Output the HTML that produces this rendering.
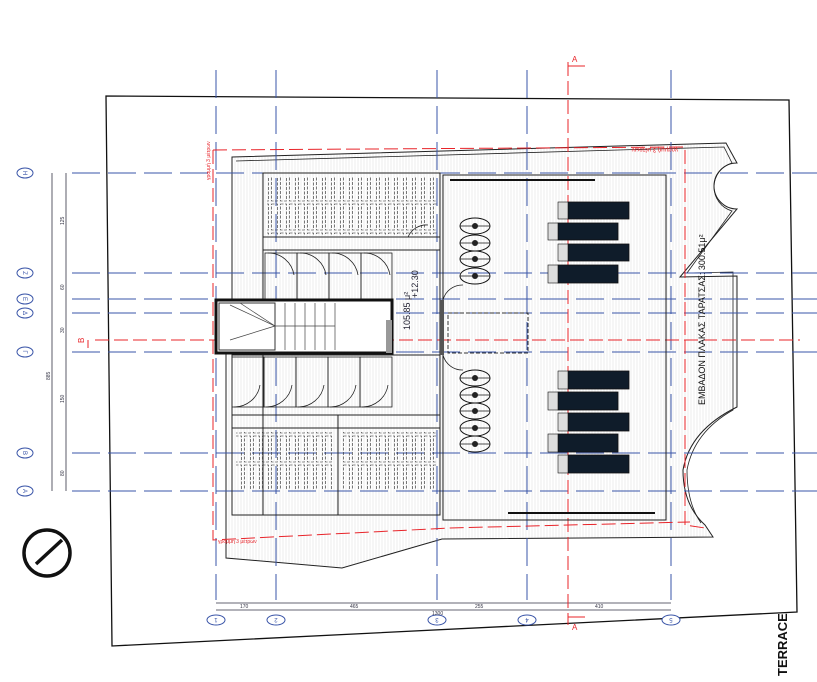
<!DOCTYPE html>
<html><head><meta charset="utf-8"><style>
html,body{margin:0;padding:0;background:#fff}
svg{display:block}
text{font-family:"Liberation Sans",sans-serif}
</style></head><body>
<svg width="817" height="682" viewBox="0 0 817 682" xmlns="http://www.w3.org/2000/svg">
<defs>
<pattern id="hatch" width="3" height="3" patternUnits="userSpaceOnUse"><line x1="1" y1="0" x2="1" y2="3" stroke="#e2e2e2" stroke-width="0.6"/></pattern>
<pattern id="racks" width="9" height="29" patternUnits="userSpaceOnUse"><rect x="1.5" y="1" width="6" height="26" fill="none" stroke="#222" stroke-width="0.6" stroke-dasharray="3,1.5"/></pattern>
</defs>
<rect width="817" height="682" fill="#fff"/>
<polygon points="106,96 789,100 797,612 112,646" fill="none" stroke="#111" stroke-width="1.3"/>

<path d="M232,157 L726,143 L737,163 A22,22 0 0 0 737,209 L680,277 L737,276 L737,407 Q690,430 683,470 Q683,505 705,525 L713,537 L442,539 L342,568 L226,558 L226,300 L232,300 Z" fill="url(#hatch)" stroke="#222" stroke-width="1"/>
<path d="M236,161 L724,147 L732,163 A25,25 0 0 0 732,211 L687,273 L733,272 L733,410 Q694,432 687,470 Q687,503 701,523" fill="none" stroke="#222" stroke-width="0.8"/>

<g stroke="#3a55a8" stroke-width="1" stroke-dasharray="28,8">
<line x1="216" y1="70" x2="216" y2="600"/><line x1="276" y1="70" x2="276" y2="600"/>
<line x1="437" y1="70" x2="437" y2="600"/><line x1="527" y1="70" x2="527" y2="600"/>
<line x1="671" y1="70" x2="671" y2="600"/>
<line x1="72" y1="173" x2="817" y2="173"/><line x1="72" y1="273" x2="817" y2="273"/>
<line x1="72" y1="299" x2="817" y2="299"/><line x1="72" y1="313" x2="817" y2="313"/>
<line x1="72" y1="352" x2="817" y2="352"/><line x1="72" y1="453" x2="817" y2="453"/>
<line x1="72" y1="491" x2="817" y2="491"/>
</g>
<g stroke="#334" stroke-width="0.8"><line x1="52" y1="173" x2="52" y2="491"/><line x1="66" y1="173" x2="66" y2="491"/></g>
<g fill="#fff" stroke="#3a55a8" stroke-width="1">
<ellipse cx="25" cy="173" rx="8" ry="5"/><ellipse cx="25" cy="273" rx="8" ry="5"/><ellipse cx="25" cy="299" rx="8" ry="5"/><ellipse cx="25" cy="313" rx="8" ry="5"/><ellipse cx="25" cy="352" rx="8" ry="5"/><ellipse cx="25" cy="453" rx="8" ry="5"/><ellipse cx="25" cy="491" rx="8" ry="5"/>
<ellipse cx="216" cy="620" rx="9" ry="5"/><ellipse cx="276" cy="620" rx="9" ry="5"/><ellipse cx="437" cy="620" rx="9" ry="5"/><ellipse cx="527" cy="620" rx="9" ry="5"/><ellipse cx="671" cy="620" rx="9" ry="5"/>
</g>
<g font-size="6" fill="#3a55a8" text-anchor="middle">
<text x="25" y="175" transform="rotate(90 25 173)">H</text><text x="25" y="275" transform="rotate(90 25 273)">Z</text><text x="25" y="301" transform="rotate(90 25 299)">E</text><text x="25" y="315" transform="rotate(90 25 313)">Δ</text><text x="25" y="354" transform="rotate(90 25 352)">Γ</text><text x="25" y="455" transform="rotate(90 25 453)">B</text><text x="25" y="493" transform="rotate(90 25 491)">A</text>
<text x="216" y="622" transform="rotate(180 216 620)">1</text><text x="276" y="622" transform="rotate(180 276 620)">2</text><text x="437" y="622" transform="rotate(180 437 620)">3</text><text x="527" y="622" transform="rotate(180 527 620)">4</text><text x="671" y="622" transform="rotate(180 671 620)">5</text>
</g>
<g font-size="5" fill="#334">
<text x="64" y="225" transform="rotate(-90 64 225)">125</text><text x="64" y="290" transform="rotate(-90 64 290)">60</text><text x="64" y="333" transform="rotate(-90 64 333)">30</text><text x="64" y="403" transform="rotate(-90 64 403)">150</text><text x="64" y="476" transform="rotate(-90 64 476)">80</text><text x="50" y="380" transform="rotate(-90 50 380)">885</text>
</g>
<g stroke="#334" stroke-width="0.8"><line x1="216" y1="603" x2="671" y2="603"/><line x1="216" y1="610" x2="671" y2="610"/></g>
<g font-size="5" fill="#334"><text x="240" y="608">170</text><text x="350" y="608">465</text><text x="475" y="608">255</text><text x="595" y="608">410</text><text x="432" y="615">1300</text></g>

<g stroke="#e8242a" stroke-width="1" fill="none" stroke-dasharray="14,5">
<line x1="95" y1="340" x2="800" y2="340"/>
<line x1="568" y1="62" x2="568" y2="625"/>
<polyline points="213,150 685,147 685,525 705,528"/>
<polyline points="213,150 213,540 450,528 690,522"/>
</g>
<g stroke="#e8242a" stroke-width="1" fill="none"><polyline points="568,62 568,66 585,66"/><polyline points="568,620 568,617 585,617"/><polyline points="88,340 88,348"/></g>
<text x="572" y="62" font-size="8" fill="#e8242a">A</text><text x="572" y="630" font-size="8" fill="#e8242a">A</text>
<text x="80" y="347" font-size="8" fill="#e8242a" transform="rotate(-90 80 343)">B</text>
<text x="612" y="152" font-size="6" fill="#e8242a" transform="rotate(180 645 150)">γραμμή 3 μέτρων</text>
<text x="200" y="180" font-size="5" fill="#e8242a" transform="rotate(-90 205 175)">γραμμή 3 μέτρων</text>
<text x="218" y="543" font-size="5" fill="#e8242a">γραμμή 3 μέτρων</text>

<g fill="none" stroke="#222" stroke-width="1">
<rect x="263" y="173" width="177" height="342"/>
<rect x="232" y="355" width="208" height="160"/>
<rect x="443" y="175" width="223" height="345"/>
<line x1="263" y1="237" x2="440" y2="237"/>
<line x1="263" y1="250" x2="440" y2="250"/>
<line x1="232" y1="415" x2="440" y2="415"/>
<line x1="232" y1="428" x2="440" y2="428"/>
<line x1="338" y1="415" x2="338" y2="515"/>
</g>
<rect x="267" y="177" width="170" height="58" fill="url(#racks)"/>
<rect x="236" y="432" width="96" height="58" fill="url(#racks)"/>
<rect x="342" y="432" width="94" height="58" fill="url(#racks)"/>
<g fill="none" stroke="#222" stroke-width="0.8">
<rect x="265" y="253" width="32" height="46"/><rect x="297" y="253" width="32" height="46"/><rect x="329" y="253" width="32" height="46"/><rect x="361" y="253" width="31" height="46"/>
<rect x="232" y="357" width="32" height="50"/><rect x="264" y="357" width="32" height="50"/><rect x="296" y="357" width="32" height="50"/><rect x="328" y="357" width="32" height="50"/><rect x="360" y="357" width="32" height="50"/>
<path d="M268,253 A26,26 0 0 1 294,275"/><path d="M300,253 A26,26 0 0 1 326,275"/><path d="M332,253 A26,26 0 0 1 358,275"/><path d="M364,253 A26,26 0 0 1 390,275"/>
<path d="M234,407 A26,26 0 0 0 260,385"/><path d="M266,407 A26,26 0 0 0 292,385"/><path d="M298,407 A26,26 0 0 0 324,385"/><path d="M330,407 A26,26 0 0 0 356,385"/><path d="M362,407 A26,26 0 0 0 388,385"/>
<path d="M408,237 A20,20 0 0 1 428,225"/><path d="M443,300 A20,20 0 0 1 463,285"/><path d="M443,355 A20,20 0 0 0 463,370"/>
</g>
<rect x="216" y="300" width="176" height="53" fill="#fff" stroke="#111" stroke-width="3"/>
<rect x="219" y="303" width="56" height="47" fill="none" stroke="#333" stroke-width="1"/>
<g stroke="#444" stroke-width="0.7">
<line x1="275" y1="326" x2="230" y2="305"/><line x1="275" y1="326" x2="240" y2="303"/><line x1="275" y1="326" x2="230" y2="340"/>
<line x1="285" y1="303" x2="285" y2="350"/><line x1="295" y1="303" x2="295" y2="350"/><line x1="305" y1="303" x2="305" y2="350"/><line x1="315" y1="303" x2="315" y2="350"/><line x1="325" y1="303" x2="325" y2="350"/><line x1="335" y1="303" x2="335" y2="350"/>
<line x1="275" y1="326" x2="335" y2="326"/>
</g>
<rect x="386" y="320" width="6" height="33" fill="#999"/>
<rect x="440" y="300" width="4" height="55" fill="#555"/>
<rect x="448" y="313" width="80" height="40" fill="none" stroke="#333" stroke-dasharray="4,2"/>

<g fill="none" stroke="#111" stroke-width="1">
<ellipse cx="475" cy="226" rx="15" ry="8"/><ellipse cx="475" cy="243" rx="15" ry="8"/><ellipse cx="475" cy="259" rx="15" ry="8"/><ellipse cx="475" cy="276" rx="15" ry="8"/>
<ellipse cx="475" cy="378" rx="15" ry="8"/><ellipse cx="475" cy="395" rx="15" ry="8"/><ellipse cx="475" cy="411" rx="15" ry="8"/><ellipse cx="475" cy="428" rx="15" ry="8"/><ellipse cx="475" cy="444" rx="15" ry="8"/>
</g>
<g stroke="#111" stroke-width="0.7">
<line x1="460" y1="226" x2="490" y2="226"/><line x1="460" y1="243" x2="490" y2="243"/><line x1="460" y1="259" x2="490" y2="259"/><line x1="460" y1="276" x2="490" y2="276"/>
<line x1="460" y1="378" x2="490" y2="378"/><line x1="460" y1="395" x2="490" y2="395"/><line x1="460" y1="411" x2="490" y2="411"/><line x1="460" y1="428" x2="490" y2="428"/><line x1="460" y1="444" x2="490" y2="444"/>
</g>
<g fill="#222"><circle cx="475" cy="226" r="3"/><circle cx="475" cy="243" r="3"/><circle cx="475" cy="259" r="3"/><circle cx="475" cy="276" r="3"/><circle cx="475" cy="378" r="3"/><circle cx="475" cy="395" r="3"/><circle cx="475" cy="411" r="3"/><circle cx="475" cy="428" r="3"/><circle cx="475" cy="444" r="3"/></g>
<g fill="#0f1c2a" stroke="#111" stroke-width="0.8">
<rect x="568" y="202" width="61" height="17"/><rect x="558" y="223" width="60" height="17"/><rect x="568" y="244" width="61" height="17"/><rect x="558" y="265" width="60" height="18"/>
<rect x="568" y="371" width="61" height="18"/><rect x="558" y="392" width="60" height="18"/><rect x="568" y="413" width="61" height="18"/><rect x="558" y="434" width="60" height="18"/><rect x="568" y="455" width="61" height="18"/>
</g>
<g fill="#ddd" stroke="#111" stroke-width="0.6">
<rect x="558" y="202" width="10" height="17"/><rect x="548" y="223" width="10" height="17"/><rect x="558" y="244" width="10" height="17"/><rect x="548" y="265" width="10" height="18"/>
<rect x="558" y="371" width="10" height="18"/><rect x="548" y="392" width="10" height="18"/><rect x="558" y="413" width="10" height="18"/><rect x="548" y="434" width="10" height="18"/><rect x="558" y="455" width="10" height="18"/>
</g>
<g stroke="#111" stroke-width="2"><line x1="450" y1="180" x2="595" y2="180"/><line x1="508" y1="513" x2="655" y2="513"/></g>

<text x="410" y="330" font-size="9" fill="#223" transform="rotate(-90 410 330)">105.85 μ²</text>
<text x="418" y="298" font-size="9" fill="#223" transform="rotate(-90 418 298)">+12.30</text>
<text x="705" y="405" font-size="9" fill="#111" transform="rotate(-90 705 405)">ΕΜΒΑΔΟΝ ΠΛΑΚΑΣ ΤΑΡΑΤΣΑΣ: 300.51μ²</text>
<text x="787" y="676" font-size="13" font-weight="bold" fill="#111" transform="rotate(-90 787 676)">TERRACE</text>
<circle cx="47" cy="553" r="23" fill="none" stroke="#111" stroke-width="3.5"/>
<line x1="36" y1="564" x2="62" y2="540" stroke="#111" stroke-width="3.5"/>
</svg>
</body></html>
